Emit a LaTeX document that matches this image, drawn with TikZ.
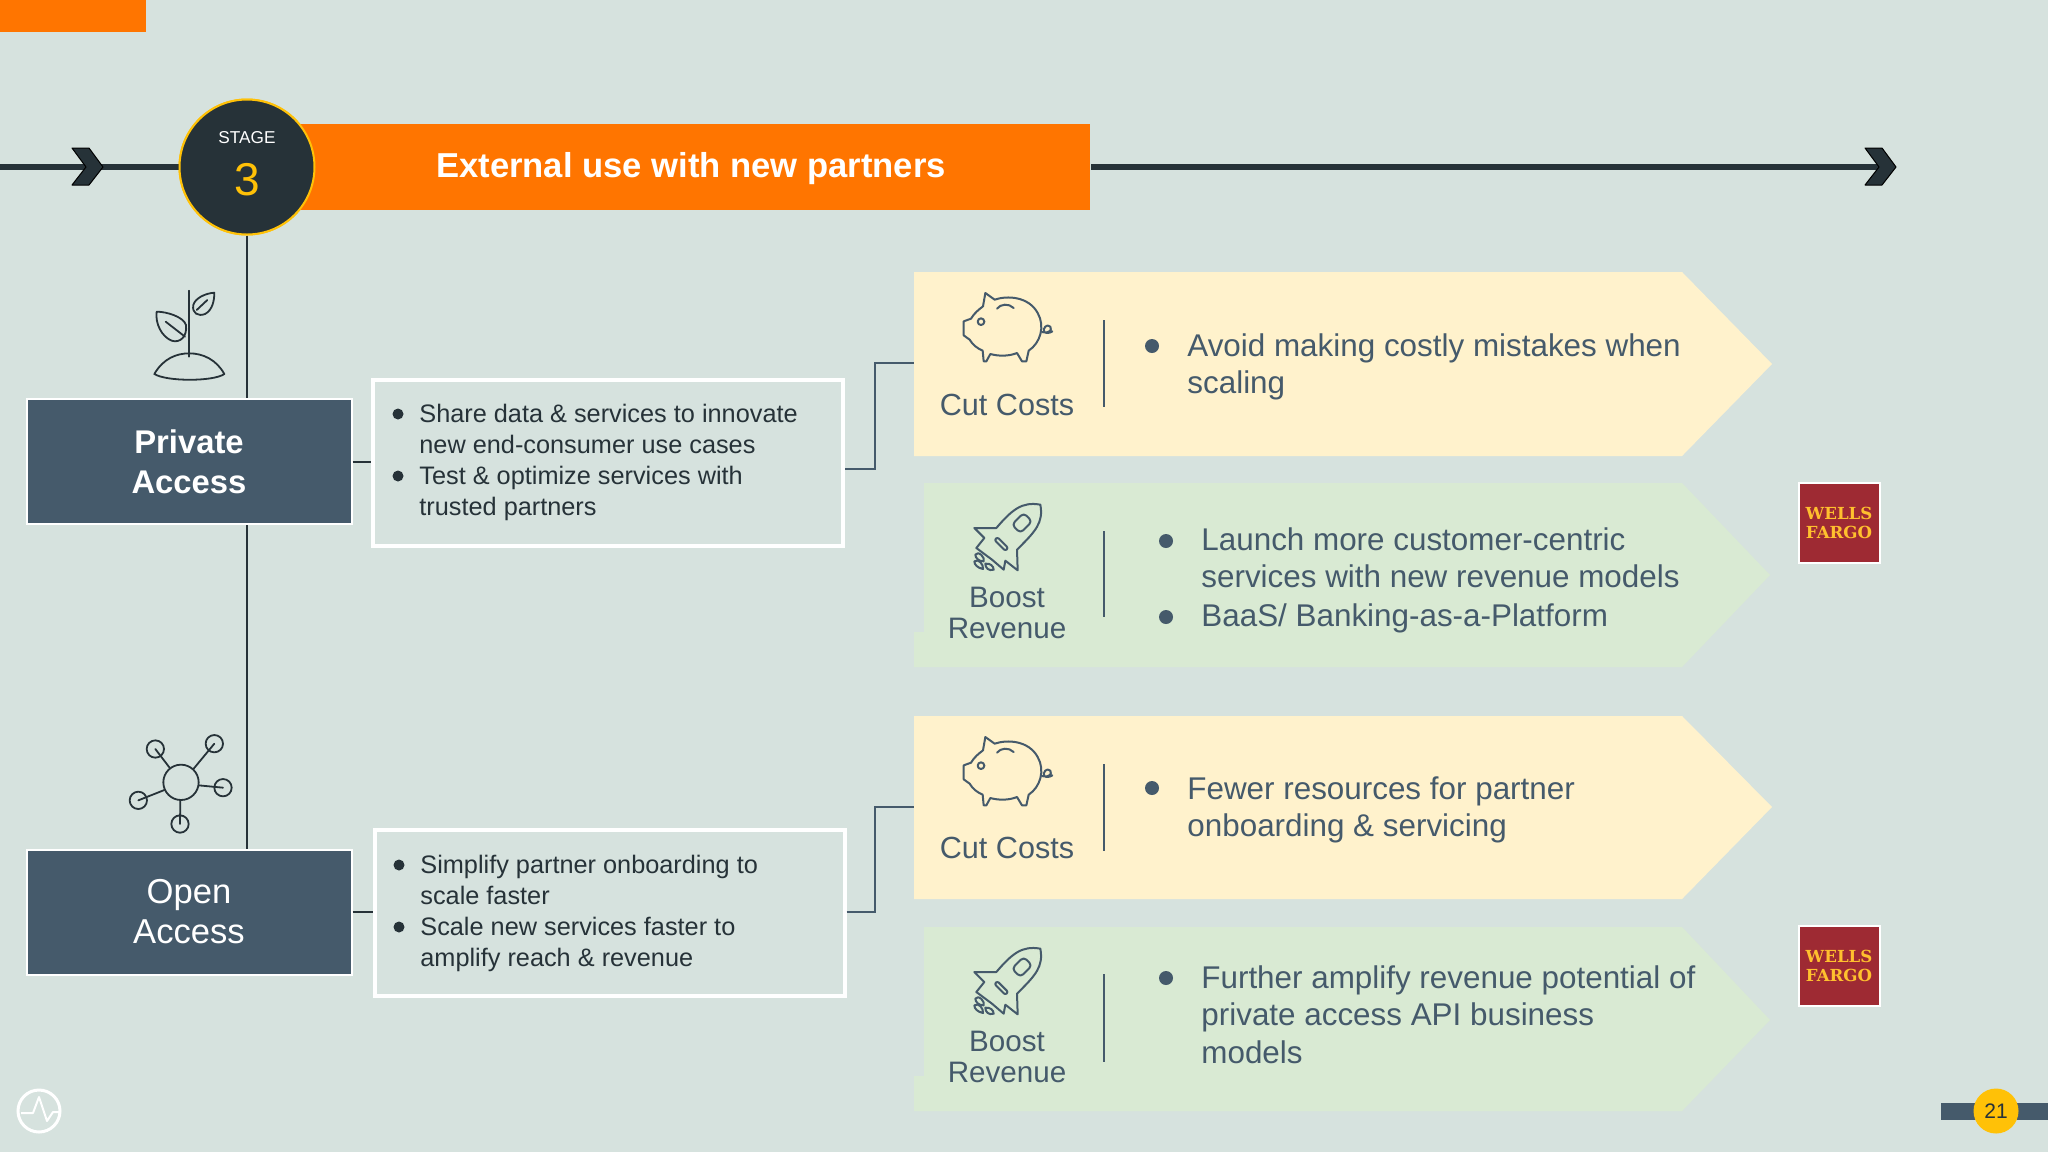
\documentclass[tikz,border=0pt]{standalone}
\usepackage{fontspec}
\setmainfont{Liberation Sans}
\newfontfamily\slab{DejaVu Serif}
\definecolor{bg}{HTML}{D6E2DE}
\definecolor{orng}{HTML}{FF7500}
\definecolor{ink}{HTML}{263238}
\definecolor{slate}{HTML}{455A6B}
\definecolor{gold}{HTML}{FFC107}
\definecolor{yelbox}{HTML}{FFF2CC}
\definecolor{grnbox}{HTML}{D9EAD3}
\definecolor{wfred}{HTML}{9E2A33}
\definecolor{wfyel}{HTML}{FFC02E}
\newcommand{\fs}[2]{\fontsize{#1}{#2}\selectfont}
\tikzset{
  x=0.5pt,y=-0.5pt,
  conn/.style={draw=slate,line width=1pt},
  spine/.style={draw=ink,line width=1.2pt},
  axis/.style={draw=ink,line width=3pt},
  chev/.style={fill=ink,draw=black,line width=0.5pt,line join=round},
  head/.style={draw=white,line width=1pt,fill=slate,inner sep=0,minimum width=162.5pt,minimum height=62.5pt,text=white,align=center,font=\fs{17.3}{20}},
  note/.style={draw=white,line width=2pt,fill=none,inner sep=0,minimum width=235pt,minimum height=83pt},
  ntext/.style={anchor=north west,inner sep=0,align=left,text=ink,font=\fs{12.65}{15.5}},
  btext/.style={anchor=north west,inner sep=0,align=left,text=slate,font=\fs{15.7}{18.8}},
  capt/.style={inner sep=0,align=center,text=slate,font=\fs{15.3}{15.4}},
  capb/.style={capt,font=\fs{14.8}{15.4}},
  dotk/.style={circle,fill=ink,inner sep=0,minimum size=5.5pt},
  dots/.style={circle,fill=slate,inner sep=0,minimum size=7pt},
  divd/.style={draw=slate,line width=1pt},
  wf/.style={draw=white,line width=1pt,fill=wfred,inner sep=0,minimum width=40.5pt,minimum height=40pt,text=wfyel,align=center,font=\slab\bfseries\fs{8.3}{9.4}},
  ico/.style={draw=slate,line width=1pt,line join=round,line cap=round},
  icd/.style={draw=ink,line width=0.9pt,line join=round,line cap=round},
  pics/piggy/.style={code={
    \begin{scope}[x=0.16667pt,y=-0.16667pt,shift={(-320,-210)}]
    \draw[ico] (255,105) -- (283,125) .. controls (320,112) and (385,115) .. (412,165)
      .. controls (435,205) and (420,255) .. (385,278) -- (378,310) -- (365,310) -- (350,285)
      .. controls (325,295) and (295,295) .. (270,288) -- (258,310) -- (250,310) -- (247,278)
      .. controls (230,270) and (218,262) .. (208,245) -- (190,232) -- (190,190) -- (212,182)
      .. controls (222,165) and (235,155) .. (248,145) -- cycle;
    \draw[ico] (242,191) circle[radius=10];
    \draw[ico] (290,152) .. controls (300,138) and (325,135) .. (340,150);
    \draw[ico] (425,222) .. controls (440,228) and (458,218) .. (450,206) .. controls (440,195) and (425,212) .. (432,222) .. controls (436,226) and (448,226) .. (456,220);
    \end{scope}}},
  pics/rocket/.style={code={
    \begin{scope}[x=0.16667pt,y=-0.16667pt,shift={(-320,-835)}]
    \draw[ico] (420,735) .. controls (430,790) and (405,815) .. (350,870) -- (352,932) -- (315,903) -- (310,930) -- (275,900)
      -- (228,865) -- (252,835) -- (222,805) -- (288,805)
      .. controls (335,750) and (365,725) .. (420,735) -- cycle;
    \draw[ico,rotate around={45:(365,790)},rounded corners=2pt] (340,772) rectangle (390,808);
    \draw[ico,rotate around={-45:(303,853)},rounded corners=1pt] (280,847) rectangle (326,859);
    \draw[ico] (225,885) .. controls (235,870) and (255,895) .. (250,905) .. controls (235,905) and (225,895) .. (225,885) -- cycle;
    \draw[ico] (222,905) .. controls (235,895) and (250,915) .. (248,928) .. controls (232,925) and (222,915) .. (222,905) -- cycle;
    \draw[ico] (255,912) .. controls (270,910) and (280,920) .. (280,930) .. controls (265,935) and (255,925) .. (255,912) -- cycle;
    \end{scope}}},
  pics/plant/.style={code={
    \begin{scope}[x=0.16667pt,y=-0.16667pt]
    \draw[icd] (568,872) -- (568,1070);
    \draw[icd] (463,1122) .. controls (490,1075) and (530,1060) .. (568,1060) .. controls (610,1060) and (650,1080) .. (673,1122) .. controls (640,1145) and (500,1145) .. (463,1122) -- cycle;
    \draw[icd] (470,935) .. controls (500,935) and (550,950) .. (558,975) .. controls (562,1010) and (540,1030) .. (515,1022) .. controls (485,1010) and (465,970) .. (470,935) -- cycle;
    \draw[icd] (497,965) -- (555,1010);
    \draw[icd] (643,878) .. controls (615,880) and (585,895) .. (580,915) .. controls (575,940) and (595,950) .. (615,942) .. controls (638,930) and (643,900) .. (643,878) -- cycle;
    \draw[icd] (590,930) -- (622,900);
    \end{scope}}},
  pics/nettle/.style={code={
    \begin{scope}[x=0.16667pt,y=-0.16667pt]
    \draw[icd] (243,217) circle[radius=53];
    \foreach \a/\b/\c/\d in {166/117/208/172,343/101/281/176,369/233/296/226,240/342/241/270,115/271/193/240}{
      \draw[icd] (\a,\b) circle[radius=26];
      \draw[icd] (\a,\b) -- (\c,\d);
    }
    \end{scope}}}
}
\begin{document}
\begin{tikzpicture}
\useasboundingbox (0,0) rectangle (2048,1152);
\fill[bg] (0,0) rectangle (2048,1152);
\fill[orng] (0,0) rectangle (146,32);

% axis
\coordinate (axL) at (0,167);
\coordinate (axR) at (1890,167);
\node[circle,draw=gold,fill=ink,line width=1pt,minimum size=67.5pt,inner sep=0] (stage) at (247,167) {};
\draw[axis] (axL) -- (stage.west);
\fill[orng] (300,124) rectangle (1090,210);
\node[inner sep=0] (bannerR) at (1090,167) {};
\draw[axis] (bannerR) -- (axR);
\draw[chev] (72,148) -- (89,148) -- (103,167) -- (89,185) -- (72,185) -- (86,167) -- cycle;
\draw[chev] (1865,148) -- (1882,148) -- (1896,167) -- (1882,185) -- (1865,185) -- (1879,167) -- cycle;
\node[circle,draw=gold,fill=ink,line width=1pt,minimum size=67.5pt,inner sep=0] at (247,167) {};
\node[inner sep=0,text=white,font=\fs{8.6}{10}] (stagel) at (247,138) {STAGE};
\node[inner sep=0,text=gold,font=\fs{23}{24}] (stagen) at (247,180) {3};
\node[inner sep=0,text=white,font=\bfseries\fs{17.3}{20}] (title) at (691,169) {External use with new partners};

% heads
\node[head,font=\bfseries\fs{16.4}{20}] (priv) at (189,461.5) {Private\\Access};
\node[head] (open) at (189,912) {Open\\Access};
\draw[spine] (stage.south) -- (stage.south |- priv.north);
\draw[spine] (stage.south |- priv.south) -- (stage.south |- open.north);

\pic at (0,0) {plant};
\pic at (100,710) {nettle};

% notes
\node[note] (n1) at (608,462.5) {};
\node[note] (n2) at (609.5,912.5) {};
\draw[conn,draw=ink] (priv.east) -- (priv.east -| n1.west);
\draw[conn,draw=ink] (open.east) -- (open.east -| n2.west);

% pentagons
\fill[yelbox] (914,272) -- (1682,272) -- (1772,364) -- (1682,456) -- (914,456) -- cycle;
\fill[grnbox] (924,483) -- (1682,483) -- (1770,575) -- (1682,667) -- (914,667) -- (914,632) -- (924,632) -- cycle;
\fill[yelbox] (914,716) -- (1682,716) -- (1772,807) -- (1682,899) -- (914,899) -- cycle;
\fill[grnbox] (924,927) -- (1682,927) -- (1770,1020) -- (1682,1111) -- (914,1111) -- (914,1076) -- (924,1076) -- cycle;

\coordinate (p1) at (914,363);
\coordinate (p3) at (914,807);
\coordinate (q1) at (0,469);
\coordinate (q2) at (0,912);
\draw[conn] (n1.east |- q1) -- (875,469) -- (875,363) -- (p1);
\draw[conn] (n2.east |- q2) -- (875,912) -- (875,807) -- (p3);

% note texts
\node[dotk] (d1) at (398,414) {};
\node[dotk] (d2) at (398,476) {};
\node[ntext] (t1) at (419,404) {Share data \& services to innovate\\new end-consumer use cases};
\node[ntext] (t2) at (419,466) {Test \& optimize services with\\trusted partners};
\node[dotk] (d3) at (399,865) {};
\node[dotk] (d4) at (399,927) {};
\node[ntext] (t3) at (420,855) {Simplify partner onboarding to\\scale faster};
\node[ntext] (t4) at (420,917) {Scale new services faster to\\amplify reach \& revenue};

% icons and captions
\pic at (1007,328) {piggy};
\pic at (1007,538) {rocket};
\pic at (1007,772) {piggy};
\pic at (1007,982) {rocket};
\node[capt] (c1) at (1007,405) {Cut Costs};
\node[capb] (c2) at (1007,613) {Boost\\Revenue};
\node[capt] (c3) at (1007,848) {Cut Costs};
\node[capb] (c4) at (1007,1057) {Boost\\Revenue};
\draw[divd] (1104,320) -- (1104,407);
\draw[divd] (1104,531) -- (1104,617);
\draw[divd] (1104,764) -- (1104,851);
\draw[divd] (1104,974) -- (1104,1062);

% bullets
\node[dots] (b1) at (1152,346) {};
\node[btext] (bt1) at (1187,333) {Avoid making costly mistakes when\\scaling};
\node[dots] (b2) at (1166,541) {};
\node[btext] (bt2) at (1201,527) {Launch more customer-centric\\services with new revenue models};
\node[dots] (b3) at (1166,617) {};
\node[btext] (bt3) at (1201,603) {BaaS/ Banking-as-a-Platform};
\node[dots] (b4) at (1152,788) {};
\node[btext] (bt4) at (1187,776) {Fewer resources for partner\\onboarding \& servicing};
\node[dots] (b5) at (1166,978) {};
\node[btext] (bt5) at (1201,965) {Further amplify revenue potential of\\private access API business\\models};

% wells fargo
\node[wf] (w1) at (1839,523) {WELLS\\FARGO};
\node[wf] (w2) at (1839,966) {WELLS\\FARGO};

% logo
\draw[white,line width=1.5pt] (39,1111) circle[radius=21];
\draw[white,line width=1pt,line join=round] (21,1113) -- (33,1113) -- (39,1097) -- (47,1121) -- (53,1112) -- (59,1112);

% page
\fill[slate] (1941,1103) rectangle (2048,1120);
\node[circle,fill=gold,minimum size=22.5pt,inner sep=0,text=ink,font=\fs{10.5}{12}] (pg) at (1996,1111) {21};
\end{tikzpicture}
\end{document}
